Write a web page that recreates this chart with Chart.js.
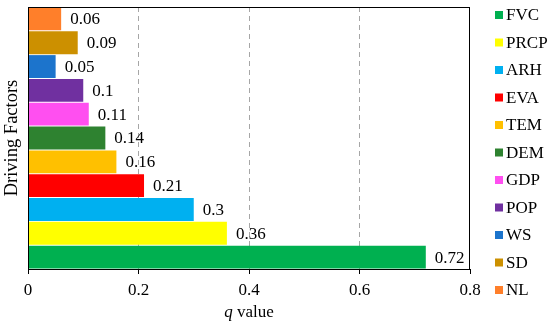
<!DOCTYPE html>
<html>
<head>
<meta charset="utf-8">
<script src="https://cdn.jsdelivr.net/npm/chart.js@4.4.1/dist/chart.umd.min.js"></script>
<style>
  html, body { margin: 0; padding: 0; background: #fff; }
  #wrap { width: 550px; height: 328px; }
</style>
</head>
<body>
<div id="wrap"><canvas id="chart"></canvas></div>
<script>
// Data (legend order, FVC first; drawn bottom to top)
const factors = ['FVC', 'PRCP', 'ARH', 'EVA', 'TEM', 'DEM', 'GDP', 'POP', 'WS', 'SD', 'NL'];
const qValues = [0.72, 0.36, 0.3, 0.21, 0.16, 0.14, 0.11, 0.1, 0.05, 0.09, 0.06];
const barColors = ['#00B050', '#FFFF00', '#00B0F0', '#FF0000', '#FFC000', '#2E8230',
                   '#FF4FF0', '#7030A0', '#1C74CC', '#CC9000', '#FF7F2A'];
const xTicks = [0, 0.2, 0.4, 0.6, 0.8];

const FONT = '"Liberation Serif", "Times New Roman", serif';
const FS = 17;

// frame around the plot, value labels, italic q in axis title, legend on the right
const extras = {
  id: 'extras',
  afterDatasetsDraw(chart) {
    const { ctx, chartArea: a } = chart;
    ctx.save();
    ctx.strokeStyle = '#000';
    ctx.lineWidth = 1;
    ctx.strokeRect(a.left + 0.5, a.top + 0.5, a.right - a.left - 1, a.bottom - a.top);

    ctx.font = FS + 'px ' + FONT;
    ctx.fillStyle = '#000';
    ctx.textBaseline = 'middle';
    ctx.textAlign = 'left';
    chart.getDatasetMeta(0).data.forEach((bar, i) => {
      ctx.fillText(String(qValues[i]), bar.x + 9, bar.y + 1);
    });

    // x axis title: "q value" with italic q
    const cx = (a.left + a.right) / 2;
    const y = 313;
    ctx.font = 'italic ' + FS + 'px ' + FONT;
    const wq = ctx.measureText('q').width;
    ctx.font = FS + 'px ' + FONT;
    const wr = ctx.measureText(' value').width;
    const x0 = cx - (wq + wr) / 2;
    ctx.font = 'italic ' + FS + 'px ' + FONT;
    ctx.fillText('q', x0, y);
    ctx.font = FS + 'px ' + FONT;
    ctx.fillText(' value', x0 + wq, y);

    // legend
    factors.forEach((f, i) => {
      const ly = 15 + i * 27.5;
      ctx.fillStyle = barColors[i];
      ctx.fillRect(495, ly - 4, 8, 8);
      ctx.fillStyle = '#000';
      ctx.fillText(f, 506, ly + 1);
    });
    ctx.restore();
  }
};

new Chart(document.getElementById('chart'), {
  type: 'bar',
  data: {
    labels: factors,
    datasets: [{
      label: 'q value',
      data: qValues,
      backgroundColor: barColors,
      borderWidth: 0,
      barPercentage: 0.96,
      categoryPercentage: 1.0
    }]
  },
  options: {
    indexAxis: 'y',
    responsive: true,
    maintainAspectRatio: false,
    animation: false,
    layout: { padding: { top: 7, right: 80, left: 0, bottom: 0 } },
    plugins: {
      tooltip: { enabled: false },
      legend: { display: false }
    },
    scales: {
      x: {
        min: 0,
        max: 0.8,
        afterBuildTicks: (axis) => { axis.ticks = xTicks.map(v => ({ value: v })); },
        afterFit: (scale) => { scale.height = 59; },
        ticks: {
          font: { family: FONT, size: FS },
          color: '#000',
          padding: 6,
          maxRotation: 0,
          callback: (v) => String(v)
        },
        grid: {
          drawOnChartArea: true,
          drawTicks: true,
          tickLength: 5,
          tickColor: '#000',
          color: (c) => (c.tick && (c.tick.value === 0 || c.tick.value === 0.8)) ? 'rgba(0,0,0,0)' : '#A6A6A6'
        },
        border: { display: true, color: '#000', dash: [5, 4] },
        title: { display: false }
      },
      y: {
        reverse: true,
        afterFit: (scale) => { scale.width = 28; },
        ticks: { display: false },
        grid: { display: false, drawTicks: false },
        border: { display: true, color: '#000' },
        title: {
          display: true,
          text: 'Driving Factors',
          color: '#000',
          font: { family: FONT, size: 18.5 },
          padding: { top: 1, bottom: 5 }
        }
      }
    }
  },
  plugins: [extras]
});
</script>
</body>
</html>
